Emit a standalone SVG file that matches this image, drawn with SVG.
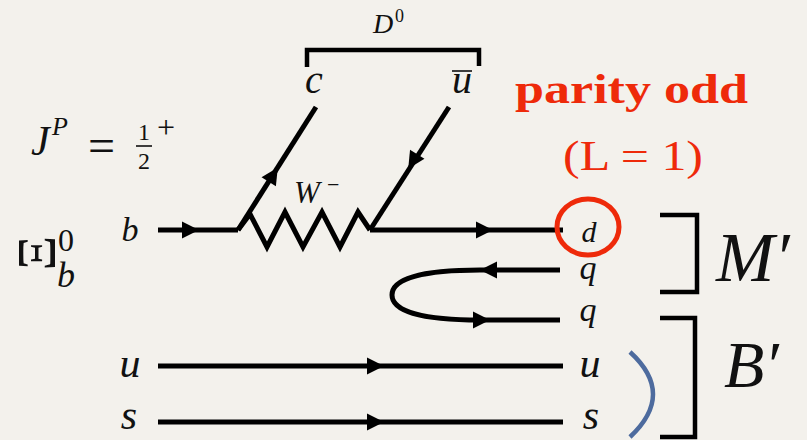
<svg xmlns="http://www.w3.org/2000/svg" xmlns:xlink="http://www.w3.org/1999/xlink" width="807" height="440" viewBox="0 0 807 440">
<defs>
<style>
.ln{fill:none;stroke:#000;stroke-width:5;stroke-linejoin:miter}
.br{fill:none;stroke:#000;stroke-width:4.5}
.mi{font-family:"Liberation Serif",serif;font-style:italic;fill:#111}
.rm{font-family:"Liberation Serif",serif;fill:#111}
.red{font-family:"Liberation Serif",serif;fill:#ee2a0a}
</style>
<path id="ah" d="M9,0 L-8,-8.5 L-8,8.5 Z" fill="#000"/>
</defs>
<rect width="807" height="440" fill="#f3f1ec"/>

<g id="connectors">
<path class="ln" d="M158,230 H238"/>
<path class="ln" d="M238,230 L316,107"/>
<path class="ln" d="M238,230 L250,214 L267,247 L285,212 L303,247 L322,212 L340,247 L358,212 L370,230"/>
<path class="ln" d="M449,107 L370,230"/>
<path class="ln" d="M370,230 H563"/>
<path class="ln" d="M560,270 H480 C425,270 392,278 392,295 C392,312 425,320 480,320 H560"/>
<path class="ln" d="M158,366 H563"/>
<path class="ln" d="M158,422 H563"/>
<use xlink:href="#ah" transform="translate(190,230)"/>
<use xlink:href="#ah" transform="translate(273,175) rotate(-57.6)"/>
<use xlink:href="#ah" transform="translate(413,161) rotate(122)"/>
<use xlink:href="#ah" transform="translate(484,230)"/>
<use xlink:href="#ah" transform="translate(489,270) rotate(180)"/>
<use xlink:href="#ah" transform="translate(481,320)"/>
<use xlink:href="#ah" transform="translate(375,366)"/>
<use xlink:href="#ah" transform="translate(375,422)"/>
</g>

<g id="D0-bracket">
<path class="br" d="M307,67 V50 H479 V66"/>
<text class="mi" x="373" y="33" font-size="28">D</text>
<text class="rm" x="395" y="22" font-size="18">0</text>
</g>

<g id="c-label"><text class="mi" x="314" y="93" font-size="40" text-anchor="middle">c</text></g>
<g id="ubar-label"><text class="mi" x="462" y="93" font-size="40" text-anchor="middle">u</text>
<path d="M452,71 H472" stroke="#111" stroke-width="1.6"/></g>

<g id="parity">
<text class="red" x="515" y="103" font-size="42" font-weight="bold" textLength="233" lengthAdjust="spacingAndGlyphs">parity odd</text>
<text class="red" x="563" y="170" font-size="42" textLength="140" lengthAdjust="spacingAndGlyphs">(L = 1)</text>
</g>

<g id="JP">
<text class="mi" x="31" y="155" font-size="42">J</text>
<text class="mi" x="52" y="135" font-size="26">P</text>
<text class="rm" x="88" y="162" font-size="48">=</text>
<text class="rm" x="144" y="140" font-size="24" text-anchor="middle">1</text>
<path d="M136,146 H152" stroke="#111" stroke-width="1.6"/>
<text class="rm" x="144" y="169" font-size="24" text-anchor="middle">2</text>
<text class="rm" x="157" y="138" font-size="32">+</text>
</g>

<g id="W-label">
<text class="mi" x="294" y="203" font-size="31">W</text>
<text class="rm" x="327" y="192" font-size="22">−</text>
</g>

<g id="Xi-b">
<text class="rm" x="37" y="271" font-size="54" text-anchor="middle" transform="rotate(-90 37 253)">Ξ</text>
<text class="rm" x="58" y="251" font-size="32">0</text>
<text class="mi" x="57" y="287" font-size="36">b</text>
</g>

<g id="b-label"><text class="mi" x="130" y="241" font-size="34" text-anchor="middle">b</text></g>
<g id="u-left"><text class="mi" x="130" y="377" font-size="42" text-anchor="middle">u</text></g>
<g id="s-left"><text class="mi" x="129" y="429" font-size="42" text-anchor="middle">s</text></g>

<g id="d-node">
<ellipse cx="588" cy="227" rx="31" ry="28" fill="none" stroke="#ee2a0a" stroke-width="5"/>
<text class="mi" x="589" y="242" font-size="30" text-anchor="middle">d</text>
</g>
<g id="q1"><text class="mi" x="588" y="279" font-size="34" text-anchor="middle">q</text></g>
<g id="q2"><text class="mi" x="588" y="321" font-size="34" text-anchor="middle">q</text></g>
<g id="u-right"><text class="mi" x="590" y="377" font-size="42" text-anchor="middle">u</text></g>
<g id="s-right"><text class="mi" x="591" y="429" font-size="42" text-anchor="middle">s</text></g>

<g id="M-prime">
<path class="br" d="M660,215 H697 V292 H660"/>
<text class="mi" x="716" y="281" font-size="70">M′</text>
</g>
<g id="B-prime">
<path class="br" d="M660,318 H695 V437 H660"/>
<text class="mi" x="724" y="387" font-size="66">B′</text>
</g>

<g id="blue-arc">
<path d="M630,352 Q676,394 630,437" fill="none" stroke="#4d6b9e" stroke-width="4.5"/>
</g>
</svg>
